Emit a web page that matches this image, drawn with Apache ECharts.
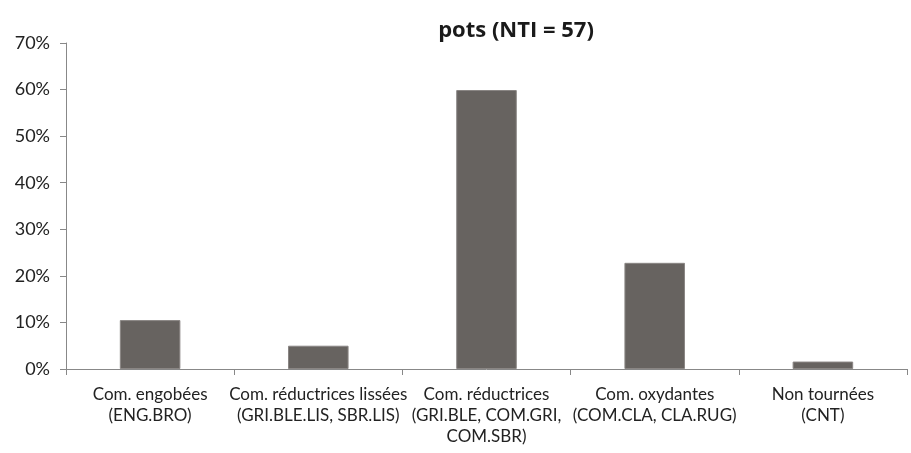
<!DOCTYPE html>
<html><head><meta charset="utf-8">
<script src="https://cdn.jsdelivr.net/npm/echarts@6/dist/echarts.min.js"></script>
<style>html,body{margin:0;padding:0;background:#fff}#c{width:911px;height:453px}</style>
</head><body><div id="c"></div>
<script>
const title = 'pots (NTI = 57)';
const categories = [
  'Com. engobées\n(ENG.BRO)',
  'Com. réductrices lissées\n(GRI.BLE.LIS, SBR.LIS)',
  'Com. réductrices\n(GRI.BLE, COM.GRI,\nCOM.SBR)',
  'Com. oxydantes\n(COM.CLA, CLA.RUG)',
  'Non tournées\n(CNT)'
];
const values = [10.5, 5.0, 59.9, 22.8, 1.6];
const yTicks = [0, 10, 20, 30, 40, 50, 60, 70];

const chart = echarts.init(document.getElementById('c'));
chart.setOption({
  animation: false,
  title: {
    text: title, left: 511, top: 15, textAlign: 'center',
    textStyle: {fontFamily: 'Open Sans', fontWeight: 'bold', fontSize: 22, color: '#1a1a1a'}
  },
  grid: {left: 66, right: 4, top: 43, bottom: 84, containLabel: false},
  xAxis: {
    type: 'category', data: categories,
    axisLine: {lineStyle: {color: '#888', width: 1}},
    axisTick: {show: true, length: 6, lineStyle: {color: '#888'}},
    axisLabel: {interval: 0, margin: 15, fontFamily: 'Lato', fontSize: 17, color: '#222', lineHeight: 21}
  },
  yAxis: {
    type: 'value', min: yTicks[0], max: yTicks[yTicks.length - 1], interval: 10,
    axisLine: {show: true, lineStyle: {color: '#888', width: 1}},
    axisTick: {show: true, length: 6, lineStyle: {color: '#888'}},
    splitLine: {show: false},
    axisLabel: {formatter: v => v + '%', margin: 16, fontFamily: 'Lato', fontSize: 18, color: '#222'}
  },
  series: [{
    type: 'bar', data: values, barWidth: '36%',
    itemStyle: {color: '#676360', borderColor: '#8a8684', borderWidth: 1}
  }]
});
</script></body></html>
